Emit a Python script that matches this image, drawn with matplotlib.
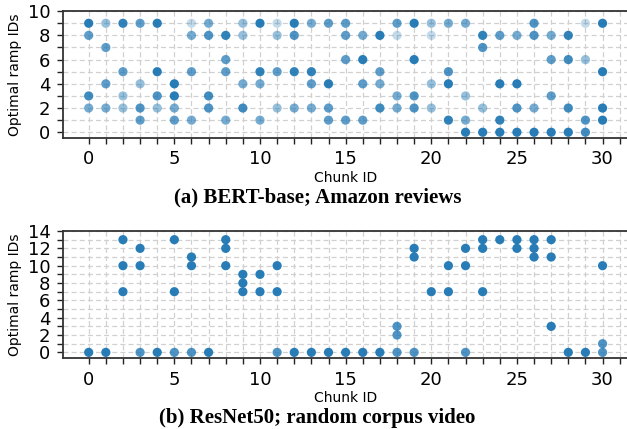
import numpy as np
import matplotlib
matplotlib.use("Agg")
import matplotlib.pyplot as plt

# (a) BERT-base; Amazon reviews -- chosen ramp per chunk, count = how many runs picked it
bert_chunk = [0, 0, 0, 0,   1, 1, 1, 1,   2, 2, 2, 2,   3, 3, 3, 3,
              4, 4, 4, 4,   5, 5, 5, 5,   6, 6, 6, 6,   7, 7, 7, 7,
              8, 8, 8, 8,   9, 9, 9, 9,   10, 10, 10, 10,   11, 11, 11, 11,
              12, 12, 12, 12,   13, 13, 13, 13,   14, 14, 14, 14,   15, 15, 15, 15,
              16, 16, 16, 16,   17, 17, 17, 17,   18, 18, 18, 18,   19, 19, 19, 19,
              20, 20, 20, 20,   21, 21, 21, 21,   22, 22, 22, 22,   23, 23, 23, 23,
              24, 24, 24, 24,   25, 25, 25, 25,   26, 26, 26, 26,   27, 27, 27, 27,
              28, 28, 28, 28,   29, 29, 29, 29,   30, 30, 30, 30]
bert_ramp = [9, 8, 3, 2,   9, 7, 4, 2,   9, 5, 3, 2,   9, 4, 2, 1,
             9, 5, 3, 2,   4, 3, 2, 1,   9, 8, 5, 1,   9, 8, 3, 2,
             8, 6, 5, 1,   9, 8, 4, 2,   9, 5, 4, 1,   9, 8, 5, 2,
             9, 8, 5, 2,   9, 5, 4, 2,   9, 4, 2, 1,   9, 8, 6, 1,
             8, 6, 4, 1,   8, 5, 4, 2,   9, 8, 3, 2,   9, 6, 3, 2,
             9, 8, 4, 2,   9, 5, 4, 1,   9, 3, 1, 0,   8, 7, 2, 0,
             8, 4, 1, 0,   8, 4, 2, 0,   9, 8, 2, 0,   8, 6, 3, 0,
             8, 6, 2, 0,   9, 6, 1, 0,   9, 5, 2, 1]
bert_count = [10, 4, 6, 3,   2, 4, 4, 3,   8, 4, 2, 2,   4, 2, 5, 4,
              10, 10, 5, 2,   10, 10, 3, 4,   1, 3, 4, 3,   3, 5, 6, 5,
              8, 4, 4, 3,   2, 2, 3, 6,   10, 8, 3, 3,   1, 2, 4, 2,
              10, 5, 8, 3,   3, 8, 4, 3,   4, 10, 4, 4,   4, 4, 4, 4,
              3, 10, 4, 4,   10, 4, 3, 6,   4, 1, 3, 3,   10, 10, 5, 5,
              2, 1, 2, 2,   3, 5, 10, 8,   3, 2, 3, 10,   8, 5, 2, 10,
              4, 10, 8, 10,   3, 10, 5, 10,   5, 5, 3, 10,   3, 4, 4, 10,
              8, 6, 6, 10,   1, 2, 5, 6,   10, 10, 10, 10]

# (b) ResNet50; random corpus video
resnet_chunk = [0, 1, 2, 2, 2, 3, 3, 3, 4, 5, 5, 5, 6, 6, 6, 7,
                8, 8, 8, 9, 9, 9, 10, 10, 11, 11, 11,
                12, 13, 14, 15, 16, 17, 18, 18, 18, 19, 19, 19, 20, 21, 21,
                22, 22, 22, 23, 23, 23, 24, 25, 25, 26, 26, 26, 27, 27, 27,
                28, 29, 30, 30, 30]
resnet_ramp = [0, 0, 13, 10, 7, 12, 10, 0, 0, 13, 7, 0, 11, 10, 0, 0,
               13, 12, 10, 9, 8, 7, 9, 7, 10, 7, 0,
               0, 0, 0, 0, 0, 0, 3, 2, 0, 12, 11, 0, 7, 10, 7,
               12, 10, 0, 13, 12, 7, 13, 13, 12, 13, 12, 11, 13, 11, 3,
               0, 0, 10, 1, 0]
resnet_count = [10, 10, 10, 10, 10, 10, 10, 5, 10, 10, 10, 5, 10, 10, 5, 10,
                10, 10, 10, 10, 10, 10, 10, 10, 10, 10, 5,
                10, 10, 10, 10, 10, 10, 5, 5, 5, 10, 10, 5, 10, 10, 10,
                10, 10, 5, 10, 10, 10, 10, 10, 10, 10, 10, 10, 10, 10, 10,
                10, 10, 10, 5, 5]

blue = "#1f77b4"
one_alpha = 0.27


def style_axes(ax, ymax, yticks):
    ax.set_xlim(-1.5, 31.5)
    ax.set_ylim(-0.05 * (ymax - 1), ymax)
    ax.set_xticks(range(0, 31, 5))
    ax.set_xticks(range(0, 32), minor=True)
    ax.set_yticks(yticks)
    ax.set_yticks(range(0, ymax + 1), minor=True)
    ax.grid(True, which="both", color="#d0d0d0", linestyle=(0, (4, 2.5)), linewidth=0.9)
    ax.set_axisbelow(True)
    ax.tick_params(which="both", length=4, width=1, color="#222222", labelsize=13, pad=5)
    for s in ax.spines.values():
        s.set_color("#333333")
        s.set_linewidth(1.3)
    ax.set_xlabel("Chunk ID", fontsize=10, labelpad=2)
    ax.set_ylabel("Optimal ramp IDs", fontsize=10, labelpad=4)


fig = plt.figure(figsize=(6.27, 4.29), dpi=100)

ax1 = fig.add_axes([0.1005, 0.679, 0.9015, 0.295])
a1 = 1 - (1 - one_alpha) ** np.array(bert_count)
ax1.scatter(bert_chunk, bert_ramp, s=44, color=blue, alpha=a1, linewidths=0, zorder=3)
style_axes(ax1, 10, range(0, 11, 2))

ax2 = fig.add_axes([0.1005, 0.1655, 0.9015, 0.296])
a2 = 1 - (1 - one_alpha) ** np.array(resnet_count)
ax2.scatter(resnet_chunk, resnet_ramp, s=44, color=blue, alpha=a2, linewidths=0, zorder=3)
style_axes(ax2, 14, range(0, 15, 2))

fig.text(0.506, 0.54, "(a) BERT-base; Amazon reviews", ha="center", va="center",
         family="Liberation Serif", weight="bold", fontsize=15)
fig.text(0.506, 0.025, "(b) ResNet50; random corpus video", ha="center", va="center",
         family="Liberation Serif", weight="bold", fontsize=15)

fig.savefig("out.png", dpi=100)
